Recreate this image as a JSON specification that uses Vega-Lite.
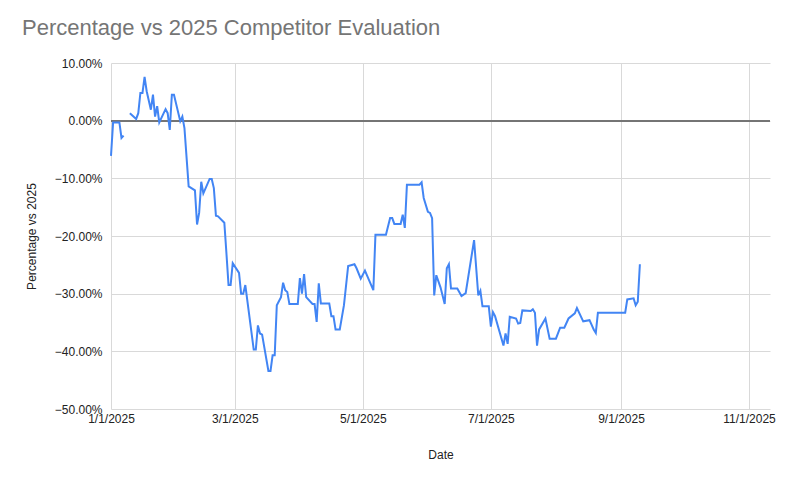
{
  "$schema": "https://vega.github.io/schema/vega-lite/v6.json",
  "width": 659,
  "height": 346,
  "autosize": {"type": "none"},
  "padding": {"left": 111, "top": 63, "right": 18, "bottom": 69},
  "background": "white",
  "config": {"view": {"stroke": null}, "font": "Liberation Sans"},
  "title": {
    "text": "Percentage vs 2025 Competitor Evaluation",
    "anchor": "start",
    "frame": "group",
    "dx": -89,
    "offset": 27,
    "dy": 10,
    "fontSize": 22,
    "fontWeight": "normal",
    "color": "#757575"
  },
  "data": {
    "values": [
      {"date": "2025/01/01", "pct": -0.061},
      {"date": "2025/01/02", "pct": -0.003},
      {"date": "2025/01/03", "pct": -0.003},
      {"date": "2025/01/04", "pct": -0.003},
      {"date": "2025/01/05", "pct": -0.003},
      {"date": "2025/01/06", "pct": -0.030},
      {"date": "2025/01/07", "pct": -0.026},
      {"date": "2025/01/08", "pct": null},
      {"date": "2025/01/10", "pct": 0.013},
      {"date": "2025/01/13", "pct": 0.003},
      {"date": "2025/01/14", "pct": 0.013},
      {"date": "2025/01/15", "pct": 0.048},
      {"date": "2025/01/16", "pct": 0.048},
      {"date": "2025/01/17", "pct": 0.076},
      {"date": "2025/01/18", "pct": 0.051},
      {"date": "2025/01/20", "pct": 0.019},
      {"date": "2025/01/21", "pct": 0.045},
      {"date": "2025/01/22", "pct": 0.007},
      {"date": "2025/01/23", "pct": 0.025},
      {"date": "2025/01/24", "pct": -0.003},
      {"date": "2025/01/27", "pct": 0.020},
      {"date": "2025/01/28", "pct": 0.013},
      {"date": "2025/01/29", "pct": -0.016},
      {"date": "2025/01/30", "pct": 0.045},
      {"date": "2025/01/31", "pct": 0.045},
      {"date": "2025/02/03", "pct": -0.001},
      {"date": "2025/02/04", "pct": 0.007},
      {"date": "2025/02/05", "pct": -0.013},
      {"date": "2025/02/07", "pct": -0.114},
      {"date": "2025/02/10", "pct": -0.121},
      {"date": "2025/02/11", "pct": -0.180},
      {"date": "2025/02/12", "pct": -0.160},
      {"date": "2025/02/13", "pct": -0.106},
      {"date": "2025/02/14", "pct": -0.126},
      {"date": "2025/02/17", "pct": -0.101},
      {"date": "2025/02/18", "pct": -0.101},
      {"date": "2025/02/19", "pct": -0.117},
      {"date": "2025/02/20", "pct": -0.165},
      {"date": "2025/02/21", "pct": -0.166},
      {"date": "2025/02/24", "pct": -0.177},
      {"date": "2025/02/25", "pct": -0.230},
      {"date": "2025/02/26", "pct": -0.285},
      {"date": "2025/02/27", "pct": -0.285},
      {"date": "2025/02/28", "pct": -0.247},
      {"date": "2025/03/03", "pct": -0.264},
      {"date": "2025/03/04", "pct": -0.300},
      {"date": "2025/03/05", "pct": -0.300},
      {"date": "2025/03/06", "pct": -0.285},
      {"date": "2025/03/10", "pct": -0.397},
      {"date": "2025/03/11", "pct": -0.397},
      {"date": "2025/03/12", "pct": -0.355},
      {"date": "2025/03/13", "pct": -0.369},
      {"date": "2025/03/14", "pct": -0.371},
      {"date": "2025/03/17", "pct": -0.434},
      {"date": "2025/03/18", "pct": -0.434},
      {"date": "2025/03/19", "pct": -0.407},
      {"date": "2025/03/20", "pct": -0.407},
      {"date": "2025/03/21", "pct": -0.320},
      {"date": "2025/03/23", "pct": -0.306},
      {"date": "2025/03/24", "pct": -0.281},
      {"date": "2025/03/25", "pct": -0.294},
      {"date": "2025/03/26", "pct": -0.297},
      {"date": "2025/03/27", "pct": -0.318},
      {"date": "2025/03/31", "pct": -0.318},
      {"date": "2025/04/01", "pct": -0.273},
      {"date": "2025/04/02", "pct": -0.300},
      {"date": "2025/04/03", "pct": -0.266},
      {"date": "2025/04/04", "pct": -0.306},
      {"date": "2025/04/07", "pct": -0.318},
      {"date": "2025/04/08", "pct": -0.318},
      {"date": "2025/04/09", "pct": -0.349},
      {"date": "2025/04/10", "pct": -0.282},
      {"date": "2025/04/11", "pct": -0.317},
      {"date": "2025/04/15", "pct": -0.317},
      {"date": "2025/04/16", "pct": -0.339},
      {"date": "2025/04/17", "pct": -0.339},
      {"date": "2025/04/18", "pct": -0.362},
      {"date": "2025/04/20", "pct": -0.362},
      {"date": "2025/04/22", "pct": -0.320},
      {"date": "2025/04/24", "pct": -0.252},
      {"date": "2025/04/27", "pct": -0.249},
      {"date": "2025/04/28", "pct": -0.256},
      {"date": "2025/04/30", "pct": -0.274},
      {"date": "2025/05/02", "pct": -0.260},
      {"date": "2025/05/04", "pct": -0.277},
      {"date": "2025/05/06", "pct": -0.294},
      {"date": "2025/05/07", "pct": -0.198},
      {"date": "2025/05/12", "pct": -0.198},
      {"date": "2025/05/14", "pct": -0.169},
      {"date": "2025/05/15", "pct": -0.169},
      {"date": "2025/05/16", "pct": -0.179},
      {"date": "2025/05/19", "pct": -0.179},
      {"date": "2025/05/20", "pct": -0.163},
      {"date": "2025/05/21", "pct": -0.186},
      {"date": "2025/05/22", "pct": -0.111},
      {"date": "2025/05/28", "pct": -0.111},
      {"date": "2025/05/29", "pct": -0.107},
      {"date": "2025/05/30", "pct": -0.134},
      {"date": "2025/06/01", "pct": -0.158},
      {"date": "2025/06/02", "pct": -0.160},
      {"date": "2025/06/03", "pct": -0.169},
      {"date": "2025/06/04", "pct": -0.303},
      {"date": "2025/06/05", "pct": -0.268},
      {"date": "2025/06/07", "pct": -0.289},
      {"date": "2025/06/09", "pct": -0.318},
      {"date": "2025/06/10", "pct": -0.256},
      {"date": "2025/06/11", "pct": -0.249},
      {"date": "2025/06/12", "pct": -0.291},
      {"date": "2025/06/15", "pct": -0.291},
      {"date": "2025/06/17", "pct": -0.304},
      {"date": "2025/06/19", "pct": -0.299},
      {"date": "2025/06/23", "pct": -0.207},
      {"date": "2025/06/25", "pct": -0.303},
      {"date": "2025/06/26", "pct": -0.295},
      {"date": "2025/06/27", "pct": -0.322},
      {"date": "2025/06/30", "pct": -0.322},
      {"date": "2025/07/01", "pct": -0.357},
      {"date": "2025/07/02", "pct": -0.332},
      {"date": "2025/07/03", "pct": -0.339},
      {"date": "2025/07/07", "pct": -0.390},
      {"date": "2025/07/08", "pct": -0.369},
      {"date": "2025/07/09", "pct": -0.387},
      {"date": "2025/07/10", "pct": -0.340},
      {"date": "2025/07/13", "pct": -0.343},
      {"date": "2025/07/14", "pct": -0.352},
      {"date": "2025/07/15", "pct": -0.351},
      {"date": "2025/07/16", "pct": -0.329},
      {"date": "2025/07/20", "pct": -0.330},
      {"date": "2025/07/21", "pct": -0.327},
      {"date": "2025/07/22", "pct": -0.333},
      {"date": "2025/07/23", "pct": -0.390},
      {"date": "2025/07/24", "pct": -0.362},
      {"date": "2025/07/27", "pct": -0.343},
      {"date": "2025/07/29", "pct": -0.378},
      {"date": "2025/07/31", "pct": -0.378},
      {"date": "2025/08/01", "pct": -0.378},
      {"date": "2025/08/03", "pct": -0.359},
      {"date": "2025/08/05", "pct": -0.359},
      {"date": "2025/08/07", "pct": -0.343},
      {"date": "2025/08/10", "pct": -0.334},
      {"date": "2025/08/11", "pct": -0.325},
      {"date": "2025/08/14", "pct": -0.348},
      {"date": "2025/08/17", "pct": -0.346},
      {"date": "2025/08/19", "pct": -0.362},
      {"date": "2025/08/20", "pct": -0.368},
      {"date": "2025/08/21", "pct": -0.333},
      {"date": "2025/09/03", "pct": -0.333},
      {"date": "2025/09/04", "pct": -0.310},
      {"date": "2025/09/07", "pct": -0.308},
      {"date": "2025/09/08", "pct": -0.320},
      {"date": "2025/09/09", "pct": -0.314},
      {"date": "2025/09/10", "pct": -0.249}
    ]
  },
  "layer": [
    {
      "mark": {"type": "rule", "color": "#757575", "strokeWidth": 1.5},
      "encoding": {"y": {"datum": 0, "type": "quantitative"}}
    },
    {
      "mark": {"type": "line", "color": "#4285F4", "strokeWidth": 2, "invalid": "break-paths-show-domains"},
      "encoding": {
        "x": {
          "field": "date",
          "type": "temporal",
          "scale": {"domain": [{"year": 2025, "month": 1, "date": 1}, {"year": 2025, "month": 11, "date": 11}]},
          "axis": {
            "title": "Date",
            "values": [
              {"year": 2025, "month": 1, "date": 1},
              {"year": 2025, "month": 3, "date": 1},
              {"year": 2025, "month": 5, "date": 1},
              {"year": 2025, "month": 7, "date": 1},
              {"year": 2025, "month": 9, "date": 1},
              {"year": 2025, "month": 11, "date": 1}
            ],
            "format": "%-m/%-d/%Y",
            "grid": true,
            "gridColor": "#d9d9d9",
            "domain": false,
            "ticks": false,
            "labelFontSize": 12,
            "labelColor": "#222222",
            "labelPadding": 4,
            "labelFlush": false,
            "labelOverlap": false,
            "titleFontSize": 12,
            "titleFontWeight": "normal",
            "titleColor": "#222222",
            "titlePadding": 25
          }
        },
        "y": {
          "field": "pct",
          "type": "quantitative",
          "scale": {"domain": [-0.5, 0.1], "nice": false, "zero": false},
          "axis": {
            "title": "Percentage vs 2025",
            "values": [-0.5, -0.4, -0.3, -0.2, -0.1, 0, 0.1],
            "format": ".2%",
            "grid": true,
            "gridColor": "#d9d9d9",
            "domain": false,
            "ticks": false,
            "labelFontSize": 12,
            "labelColor": "#222222",
            "labelPadding": 9,
            "titleFontSize": 12,
            "titleFontWeight": "normal",
            "titleColor": "#222222",
            "titlePadding": 16
          }
        }
      }
    }
  ]
}
